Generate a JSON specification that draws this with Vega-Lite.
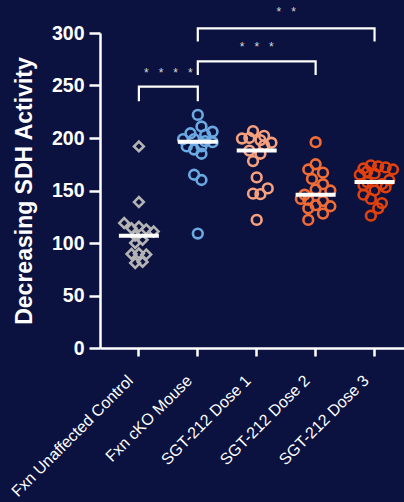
{
  "$schema": "https://vega.github.io/schema/vega-lite/v6.json",
  "width": 304,
  "height": 315,
  "autosize": {"type": "none"},
  "padding": {"left": 100, "top": 33, "right": 0, "bottom": 154},
  "background": "#0b123f",
  "config": {
    "view": {"stroke": null},
    "font": "Liberation Sans"
  },
  "datasets": {
    "points": [
      {"group": "Fxn Unaffected Control", "value": 192, "lane": 0},
      {"group": "Fxn Unaffected Control", "value": 139, "lane": 0},
      {"group": "Fxn Unaffected Control", "value": 119, "lane": -2},
      {"group": "Fxn Unaffected Control", "value": 115.5, "lane": 0},
      {"group": "Fxn Unaffected Control", "value": 114, "lane": -1},
      {"group": "Fxn Unaffected Control", "value": 113, "lane": 1},
      {"group": "Fxn Unaffected Control", "value": 111, "lane": 2},
      {"group": "Fxn Unaffected Control", "value": 107, "lane": -0.5},
      {"group": "Fxn Unaffected Control", "value": 103, "lane": 0.5},
      {"group": "Fxn Unaffected Control", "value": 100, "lane": -0.5},
      {"group": "Fxn Unaffected Control", "value": 90, "lane": 0},
      {"group": "Fxn Unaffected Control", "value": 89.5, "lane": -1},
      {"group": "Fxn Unaffected Control", "value": 89, "lane": 1},
      {"group": "Fxn Unaffected Control", "value": 82, "lane": 0.5},
      {"group": "Fxn Unaffected Control", "value": 81, "lane": -0.5},

      {"group": "Fxn cKO Mouse", "value": 222, "lane": 0},
      {"group": "Fxn cKO Mouse", "value": 211, "lane": 0.5},
      {"group": "Fxn cKO Mouse", "value": 206, "lane": 2},
      {"group": "Fxn cKO Mouse", "value": 204.5, "lane": -1},
      {"group": "Fxn cKO Mouse", "value": 203, "lane": 1},
      {"group": "Fxn cKO Mouse", "value": 199, "lane": -2},
      {"group": "Fxn cKO Mouse", "value": 199, "lane": -0.5},
      {"group": "Fxn cKO Mouse", "value": 197, "lane": 1},
      {"group": "Fxn cKO Mouse", "value": 196, "lane": 2},
      {"group": "Fxn cKO Mouse", "value": 192, "lane": -1.5},
      {"group": "Fxn cKO Mouse", "value": 192, "lane": 0.5},
      {"group": "Fxn cKO Mouse", "value": 189, "lane": -0.5},
      {"group": "Fxn cKO Mouse", "value": 185, "lane": 0.5},
      {"group": "Fxn cKO Mouse", "value": 165, "lane": -0.5},
      {"group": "Fxn cKO Mouse", "value": 160, "lane": 0.5},
      {"group": "Fxn cKO Mouse", "value": 109, "lane": 0},

      {"group": "SGT-212 Dose 1", "value": 206.5, "lane": -0.5},
      {"group": "SGT-212 Dose 1", "value": 202, "lane": 1},
      {"group": "SGT-212 Dose 1", "value": 200, "lane": -1},
      {"group": "SGT-212 Dose 1", "value": 199.5, "lane": -2},
      {"group": "SGT-212 Dose 1", "value": 198, "lane": 0.5},
      {"group": "SGT-212 Dose 1", "value": 195.5, "lane": 2},
      {"group": "SGT-212 Dose 1", "value": 193, "lane": 1},
      {"group": "SGT-212 Dose 1", "value": 188, "lane": -1},
      {"group": "SGT-212 Dose 1", "value": 185, "lane": 0.5},
      {"group": "SGT-212 Dose 1", "value": 178, "lane": -0.5},
      {"group": "SGT-212 Dose 1", "value": 162.5, "lane": 0},
      {"group": "SGT-212 Dose 1", "value": 152, "lane": 1.5},
      {"group": "SGT-212 Dose 1", "value": 147, "lane": -0.5},
      {"group": "SGT-212 Dose 1", "value": 146.5, "lane": 0.5},
      {"group": "SGT-212 Dose 1", "value": 122, "lane": 0},

      {"group": "SGT-212 Dose 2", "value": 196, "lane": 0},
      {"group": "SGT-212 Dose 2", "value": 175, "lane": 0},
      {"group": "SGT-212 Dose 2", "value": 170, "lane": -1},
      {"group": "SGT-212 Dose 2", "value": 167, "lane": 1},
      {"group": "SGT-212 Dose 2", "value": 161, "lane": -0.5},
      {"group": "SGT-212 Dose 2", "value": 156, "lane": 1},
      {"group": "SGT-212 Dose 2", "value": 151, "lane": 0},
      {"group": "SGT-212 Dose 2", "value": 150, "lane": 2},
      {"group": "SGT-212 Dose 2", "value": 146, "lane": -1.5},
      {"group": "SGT-212 Dose 2", "value": 142, "lane": -2},
      {"group": "SGT-212 Dose 2", "value": 141, "lane": -1},
      {"group": "SGT-212 Dose 2", "value": 140, "lane": 1},
      {"group": "SGT-212 Dose 2", "value": 136, "lane": 0},
      {"group": "SGT-212 Dose 2", "value": 135, "lane": 2},
      {"group": "SGT-212 Dose 2", "value": 133, "lane": -1},
      {"group": "SGT-212 Dose 2", "value": 128, "lane": 1},
      {"group": "SGT-212 Dose 2", "value": 122, "lane": -1},

      {"group": "SGT-212 Dose 3", "value": 174, "lane": -0.5},
      {"group": "SGT-212 Dose 3", "value": 173, "lane": 0.5},
      {"group": "SGT-212 Dose 3", "value": 172, "lane": 1.5},
      {"group": "SGT-212 Dose 3", "value": 171, "lane": -1.5},
      {"group": "SGT-212 Dose 3", "value": 170, "lane": 2.5},
      {"group": "SGT-212 Dose 3", "value": 168, "lane": -1},
      {"group": "SGT-212 Dose 3", "value": 166, "lane": 0},
      {"group": "SGT-212 Dose 3", "value": 165, "lane": -2},
      {"group": "SGT-212 Dose 3", "value": 160, "lane": 2},
      {"group": "SGT-212 Dose 3", "value": 158, "lane": -1},
      {"group": "SGT-212 Dose 3", "value": 156, "lane": 1},
      {"group": "SGT-212 Dose 3", "value": 155, "lane": -1.5},
      {"group": "SGT-212 Dose 3", "value": 153, "lane": 1.5},
      {"group": "SGT-212 Dose 3", "value": 150, "lane": 0},
      {"group": "SGT-212 Dose 3", "value": 146, "lane": -1.5},
      {"group": "SGT-212 Dose 3", "value": 142, "lane": -0.5},
      {"group": "SGT-212 Dose 3", "value": 138, "lane": 1},
      {"group": "SGT-212 Dose 3", "value": 133, "lane": 0.5},
      {"group": "SGT-212 Dose 3", "value": 126, "lane": -0.5}
    ],
    "brackets": [
      {"bracket": "b1", "step": 1, "group": "Fxn Unaffected Control", "value": 235},
      {"bracket": "b1", "step": 2, "group": "Fxn Unaffected Control", "value": 249},
      {"bracket": "b1", "step": 3, "group": "Fxn cKO Mouse", "value": 249},
      {"bracket": "b1", "step": 4, "group": "Fxn cKO Mouse", "value": 235},
      {"bracket": "b2", "step": 1, "group": "Fxn cKO Mouse", "value": 260},
      {"bracket": "b2", "step": 2, "group": "Fxn cKO Mouse", "value": 273},
      {"bracket": "b2", "step": 3, "group": "SGT-212 Dose 2", "value": 273},
      {"bracket": "b2", "step": 4, "group": "SGT-212 Dose 2", "value": 260},
      {"bracket": "b3", "step": 1, "group": "Fxn cKO Mouse", "value": 292},
      {"bracket": "b3", "step": 2, "group": "Fxn cKO Mouse", "value": 304.5},
      {"bracket": "b3", "step": 3, "group": "SGT-212 Dose 3", "value": 304.5},
      {"bracket": "b3", "step": 4, "group": "SGT-212 Dose 3", "value": 292}
    ],
    "stars": [
      {"label": "*\u00a0\u00a0\u00a0*\u00a0\u00a0\u00a0*\u00a0\u00a0\u00a0*", "group": "Fxn Unaffected Control", "shift": 4, "value": 262},
      {"label": "*\u00a0\u00a0\u00a0*\u00a0\u00a0\u00a0*", "group": "SGT-212 Dose 1", "shift": 0, "value": 287},
      {"label": "*\u00a0\u00a0\u00a0*", "group": "SGT-212 Dose 1", "shift": 4, "value": 320}
    ]
  },
  "layer": [
    {
      "data": {"name": "points"},
      "mark": {"type": "point", "filled": false, "size": 95, "strokeWidth": 2.6, "opacity": 1},
      "encoding": {
        "x": {
          "field": "group",
          "type": "nominal",
          "sort": null,
          "scale": {"type": "band", "paddingInner": 0, "paddingOuter": 0.08, "align": 1},
          "axis": {
            "title": null,
            "labelAngle": -45,
            "labelFontSize": 16,
            "labelColor": "#ffffff",
            "labelPadding": 16,
            "labelOffset": -14,
            "domainColor": "#ffffff",
            "domainWidth": 2.5,
            "tickColor": "#ffffff",
            "tickWidth": 2.5,
            "tickSize": 8,
            "labelFont": "Liberation Sans"
          }
        },
        "xOffset": {"field": "lane", "type": "quantitative", "scale": {"domain": [-4, 4]}},
        "y": {
          "field": "value",
          "type": "quantitative",
          "scale": {"domain": [0, 300], "nice": false},
          "axis": {
            "title": "Decreasing SDH Activity",
            "titleFontSize": 23,
            "titleFontWeight": "bold",
            "titleColor": "#ffffff",
            "titlePadding": 15,
            "values": [0, 50, 100, 150, 200, 250, 300],
            "labelFontSize": 19.5,
            "labelFontWeight": "bold",
            "labelColor": "#ffffff",
            "labelPadding": 5,
            "domainColor": "#ffffff",
            "domainWidth": 2.5,
            "tickColor": "#ffffff",
            "tickWidth": 2.5,
            "tickSize": 11,
            "grid": false
          }
        },
        "shape": {
          "field": "group",
          "type": "nominal",
          "sort": null,
          "scale": {"range": ["diamond", "circle", "circle", "circle", "circle"]},
          "legend": null
        },
        "color": {
          "field": "group",
          "type": "nominal",
          "sort": null,
          "scale": {"range": ["#b4b4b4", "#6aa9e2", "#f7a07e", "#f26c36", "#e2400c"]},
          "legend": null
        }
      }
    },
    {
      "data": {"name": "points"},
      "mark": {"type": "tick", "color": "#ffffff", "size": 40, "thickness": 4, "opacity": 1},
      "encoding": {
        "x": {"field": "group", "type": "nominal", "sort": null},
        "y": {"field": "value", "type": "quantitative", "aggregate": "median"}
      }
    },
    {
      "data": {"name": "brackets"},
      "mark": {"type": "line", "color": "#ffffff", "strokeWidth": 2.2, "strokeJoin": "miter", "interpolate": "linear"},
      "encoding": {
        "x": {"field": "group", "type": "nominal", "sort": null},
        "y": {"field": "value", "type": "quantitative"},
        "detail": {"field": "bracket"},
        "order": {"field": "step", "type": "quantitative"}
      }
    },
    {
      "data": {"name": "stars"},
      "mark": {"type": "text", "color": "#d8d8d8", "fontSize": 12, "baseline": "middle", "align": "center"},
      "encoding": {
        "x": {"field": "group", "type": "nominal", "sort": null},
        "xOffset": {"field": "shift", "type": "quantitative", "scale": {"domain": [-4, 4]}},
        "y": {"field": "value", "type": "quantitative"},
        "text": {"field": "label"}
      }
    }
  ]
}
